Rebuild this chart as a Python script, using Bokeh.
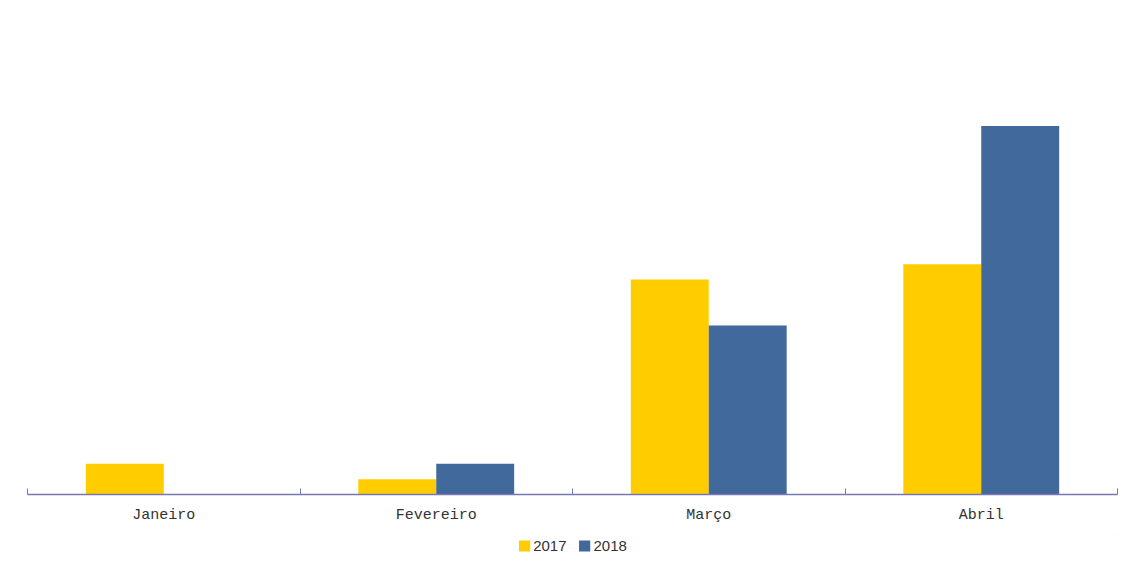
from bokeh.plotting import figure
from bokeh.layouts import column
from bokeh.models import ColumnDataSource, FixedTicker, Legend, LegendItem, Range1d
from bokeh.embed import file_html
from bokeh.resources import INLINE

categories = ["Janeiro", "Fevereiro", "Março", "Abril"]
series_names = ["2017", "2018"]
values_2017 = [2, 1, 14, 15]
values_2018 = [0, 2, 11, 24]
colors = ["#FFCC00", "#41699B"]

bar_w = 0.286
centers = [i + 0.5 for i in range(len(categories))]

p = figure(frame_width=1090, frame_height=476, output_backend="svg", toolbar_location=None,
           x_range=Range1d(0, len(categories)), y_range=Range1d(0, 31),
           min_border_left=27, min_border_right=4, min_border_top=18, min_border_bottom=40)
p.outline_line_color = None
p.background_fill_color = "white"
p.border_fill_color = "white"
p.xgrid.visible = False
p.ygrid.visible = False
p.yaxis.visible = False

for k, (vals, name) in enumerate(zip([values_2017, values_2018], series_names)):
    offset = (k - 0.5) * bar_w
    src = ColumnDataSource(dict(x=[c + offset for c in centers], top=vals))
    p.vbar(x="x", top="top", bottom=0, width=bar_w, source=src,
           fill_color=colors[k], line_color=None)

ax = p.xaxis[0]
ax.ticker = FixedTicker(ticks=centers, minor_ticks=list(range(len(categories) + 1)))
ax.major_label_overrides = {c: lab for c, lab in zip(centers, categories)}
ax.major_tick_in = 0
ax.major_tick_out = 0
ax.minor_tick_in = 6
ax.minor_tick_out = 0
ax.minor_tick_line_color = "#7777B3"
ax.axis_line_color = "#7777B3"
ax.axis_line_width = 1.5
ax.major_label_text_font = "Liberation Mono"
ax.major_label_text_font_size = "15px"
ax.major_label_text_color = "#333333"
ax.major_label_standoff = 12

# legend strip below the chart (proxy glyphs lie outside its visible range)
lg = figure(frame_width=1090, frame_height=22, output_backend="svg", toolbar_location=None,
            x_axis_type=None, y_axis_type=None, x_range=Range1d(0, 1), y_range=Range1d(0, 1),
            min_border_left=27, min_border_right=4, min_border_top=0, min_border_bottom=0)
lg.outline_line_color = None
lg.xgrid.visible = False
lg.ygrid.visible = False
items = []
for k, name in enumerate(series_names):
    r = lg.vbar(x=[5], top=[5], bottom=[4], width=0.1, fill_color=colors[k], line_color=None)
    items.append(LegendItem(label=name, renderers=[r]))
legend = Legend(items=items, orientation="horizontal", location="center",
                glyph_width=14, glyph_height=14, label_standoff=2, spacing=11,
                padding=0, margin=0, border_line_color=None,
                label_text_font="Liberation Sans", label_text_font_size="15px",
                label_text_color="#333333", background_fill_alpha=0)
lg.add_layout(legend, "center")

layout = column(p, lg, spacing=0)
open("out.html", "w").write(file_html(layout, INLINE))
